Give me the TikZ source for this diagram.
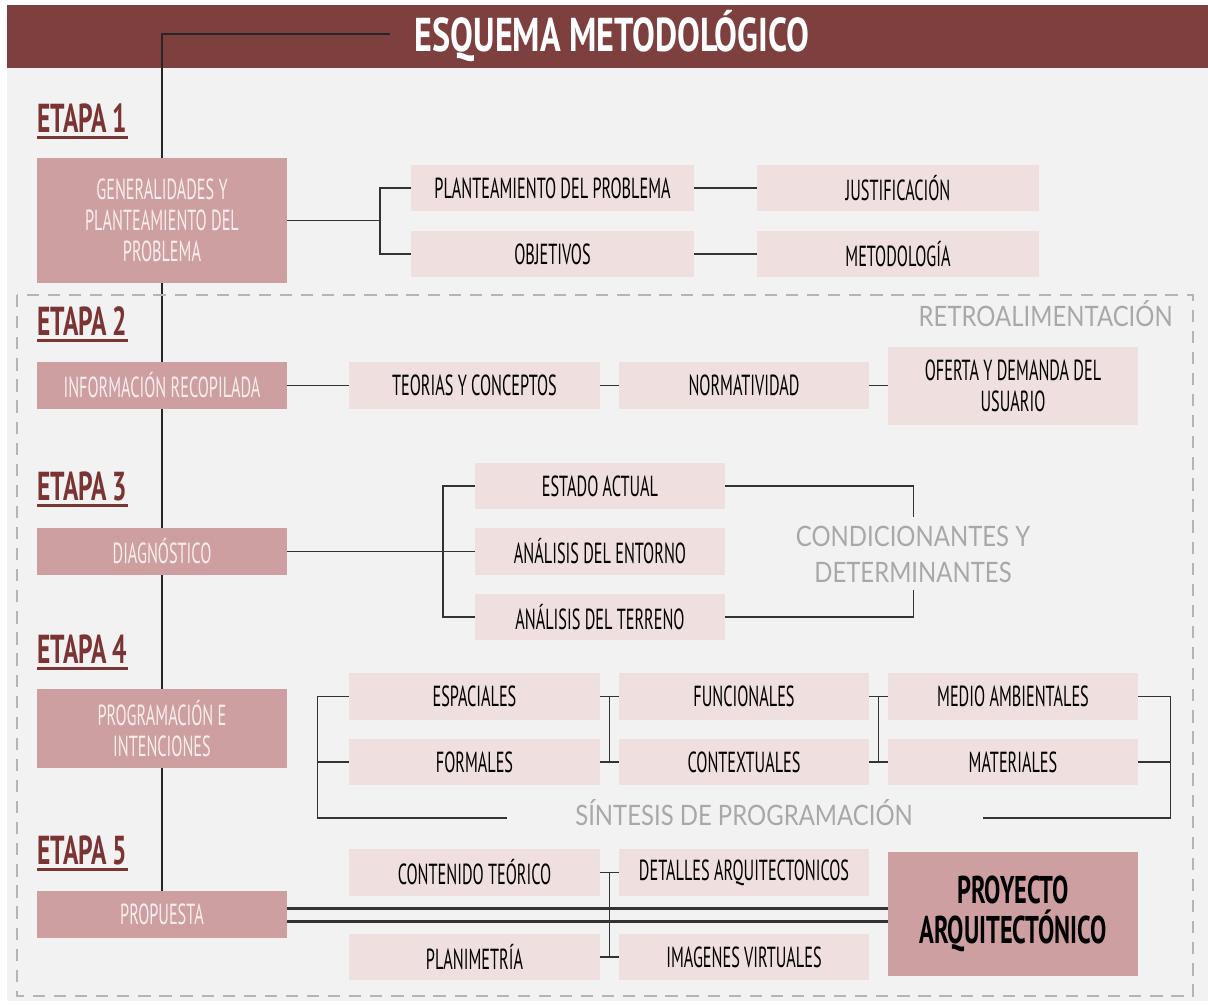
\documentclass[tikz,border=0pt]{standalone}
\usepackage{fontspec}
\usetikzlibrary{calc,backgrounds}
\newfontfamily\cond[FakeStretch=0.56]{PT Sans}
\newfontfamily\condT[FakeStretch=0.72]{PT Sans}
\newfontfamily\condE[FakeStretch=0.63]{PT Sans}
\newfontfamily\lightf[FakeStretch=0.85]{Lato}
\definecolor{titlebrown}{HTML}{7E3F3F}
\definecolor{etapac}{HTML}{7B3434}
\definecolor{darkpink}{HTML}{CE9FA0}
\definecolor{lightpink}{HTML}{EFDFDF}
\definecolor{bgc}{HTML}{F2F2F2}
\definecolor{graytxt}{HTML}{A8A8A8}
\definecolor{paletxt}{HTML}{F8EEEE}
\definecolor{linec}{HTML}{333333}
\tikzset{
  lbox/.style={rectangle, fill=lightpink, inner sep=0pt, align=center, text=black,
    font=\cond\fontsize{16.5}{17.6}\selectfont},
  dbox/.style={rectangle, fill=darkpink, inner sep=0pt, align=center, text=paletxt,
    font=\cond\fontsize{16.5}{17.6}\selectfont},
  etapa/.style={anchor=base west, inner sep=0pt, text=etapac,
    font=\condE\bfseries\fontsize{23}{25}\selectfont},
  graylbl/.style={inner sep=0pt, text=graytxt, align=center,
    font=\lightf\fontsize{16}{20.5}\selectfont},
  conn/.style={draw=linec, line width=0.8pt},
}
\begin{document}
\begin{tikzpicture}[x=0.02cm,y=-0.02cm]
\useasboundingbox (0,0) rectangle (1208,1005);
\begin{pgfonlayer}{background}
\fill[white] (0,0) rectangle (1208,1005);
\fill[bgc] (7,5) rectangle (1208,1001);
\fill[titlebrown] (7,5) rectangle (1208,68);
\end{pgfonlayer}
\node[text=white, font=\condT\bfseries\fontsize{27}{30}\selectfont, inner sep=0pt] (title) at (612,36) {ESQUEMA METODOLÓGICO};
\coordinate (tline) at (390,34);

% dashed feedback frame
\draw[draw=graytxt!85, line width=0.9pt, dash pattern=on 7pt off 5pt] (17,295) rectangle (1193,996);
\node[graylbl, anchor=east] (retro) at (1173,314) {RETROALIMENTACIÓN};

% etapa labels
\foreach \n/\yy in {1/132, 2/335, 3/500, 4/663, 5/864} {
  \node[etapa] (et\n) at (37,\yy) {ETAPA \n};
  \draw[etapac, line width=1.4pt] ([yshift=-3pt]et\n.base west) -- ([yshift=-3pt]et\n.base east);
}

% ETAPA 1
\node[dbox, minimum width=5cm, minimum height=2.5cm] (gen) at (162,220.5) {GENERALIDADES Y\\PLANTEAMIENTO DEL\\PROBLEMA};
\node[lbox, minimum width=5.66cm, minimum height=0.92cm] (plan) at (552.5,188) {PLANTEAMIENTO DEL PROBLEMA};
\node[lbox, minimum width=5.66cm, minimum height=0.92cm] (obj) at (552.5,254) {OBJETIVOS};
\node[lbox, minimum width=5.64cm, minimum height=0.92cm] (just) at (898,188) {JUSTIFICACIÓN};
\node[lbox, minimum width=5.64cm, minimum height=0.92cm] (met) at (898,254) {METODOLOGÍA};
\coordinate (b1) at (380,220.5);
\draw[conn] (gen.east) -- (b1);
\draw[conn] (plan.west) -| (b1) |- (obj.west);
\draw[conn] (plan.east) -- (just.west);
\draw[conn] (obj.east) -- (met.west);

% ETAPA 2
\node[dbox, minimum width=5cm, minimum height=0.94cm] (info) at (162,385.5) {INFORMACIÓN RECOPILADA};
\node[lbox, minimum width=5.02cm, minimum height=0.94cm] (teo) at (474.5,385.5) {TEORIAS Y CONCEPTOS};
\node[lbox, minimum width=5cm, minimum height=0.94cm] (norm) at (744,385.5) {NORMATIVIDAD};
\node[lbox, minimum width=5cm, minimum height=1.56cm] (ofe) at (1013,386) {OFERTA Y DEMANDA DEL\\USUARIO};
\draw[conn] (info.east) -- (teo.west);
\draw[conn] (teo.east) -- (norm.west);
\draw[conn] (norm.east) -- (ofe.west |- norm.east);

% ETAPA 3
\node[dbox, minimum width=5cm, minimum height=0.94cm] (diag) at (162,551.5) {DIAGNÓSTICO};
\node[lbox, minimum width=5cm, minimum height=0.92cm] (est) at (600,486) {ESTADO ACTUAL};
\node[lbox, minimum width=5cm, minimum height=0.94cm] (ent) at (600,551.5) {ANÁLISIS DEL ENTORNO};
\node[lbox, minimum width=5cm, minimum height=0.92cm] (ter) at (600,617) {ANÁLISIS DEL TERRENO};
\coordinate (b3) at (443,551.5);
\draw[conn] (diag.east) -- (ent.west);
\draw[conn] (est.west) -| (b3) |- (ter.west);
\node[graylbl] (cond) at (913,554) {CONDICIONANTES Y\\DETERMINANTES};
\draw[conn] (est.east) -- ++(188,0) -- ++(0,31);
\draw[conn] (ter.east) -- ++(188,0) -- ++(0,-27);

% ETAPA 4
\node[dbox, minimum width=5cm, minimum height=1.58cm] (prog) at (162,728.5) {PROGRAMACIÓN E\\INTENCIONES};
\node[lbox, minimum width=5.02cm, minimum height=0.94cm] (esp) at (474.5,696.5) {ESPACIALES};
\node[lbox, minimum width=5cm, minimum height=0.94cm] (fun) at (744,696.5) {FUNCIONALES};
\node[lbox, minimum width=5cm, minimum height=0.94cm] (med) at (1013,696.5) {MEDIO AMBIENTALES};
\node[lbox, minimum width=5.02cm, minimum height=0.92cm] (form) at (474.5,762) {FORMALES};
\node[lbox, minimum width=5cm, minimum height=0.92cm] (cont) at (744,762) {CONTEXTUALES};
\node[lbox, minimum width=5cm, minimum height=0.92cm] (mat) at (1013,762) {MATERIALES};
\node[graylbl] (sint) at (744,813) {SÍNTESIS DE PROGRAMACIÓN};
\coordinate (sintL) at (507,818);
\coordinate (sintR) at (983,818);
\draw[conn] (esp.west) -- ++(-31,0) |- (sintL);
\draw[conn] (form.west) -- ++(-31,0);
\draw[conn] (med.east) -- ++(32,0) |- (sintR);
\draw[conn] (mat.east) -- ++(32,0);
\draw[conn] (esp.east) -- (fun.west);
\draw[conn] (form.east) -- (cont.west);
\draw[conn] ($(esp.east)!0.5!(fun.west)$) -- ($(form.east)!0.5!(cont.west)$);
\draw[conn] (fun.east) -- (med.west);
\draw[conn] (cont.east) -- (mat.west);
\draw[conn] ($(fun.east)!0.5!(med.west)$) -- ($(cont.east)!0.5!(mat.west)$);

% ETAPA 5
\node[dbox, minimum width=5cm, minimum height=0.94cm] (prop) at (162,914.5) {PROPUESTA};
\node[lbox, minimum width=5.02cm, minimum height=0.94cm] (ct) at (474.5,872.5) {CONTENIDO TEÓRICO};
\node[lbox, minimum width=5cm, minimum height=0.94cm] (det) at (744,872.5) {DETALLES ARQUITECTONICOS};
\node[lbox, minimum width=5.02cm, minimum height=0.92cm] (pla) at (474.5,957) {PLANIMETRÍA};
\node[lbox, minimum width=5cm, minimum height=0.92cm] (img) at (744,957) {IMAGENES VIRTUALES};
\node[dbox, text=black, minimum width=5cm, minimum height=2.48cm,
  font=\condE\bfseries\fontsize{22}{22.5}\selectfont] (proy) at (1013,914) {PROYECTO\\ARQUITECTÓNICO};
\draw[linec, line width=1.7pt] ([yshift=0.13cm]prop.east) -- ([yshift=0.13cm]prop.east -| proy.west);
\draw[linec, line width=1.7pt] ([yshift=-0.13cm]prop.east) -- ([yshift=-0.13cm]prop.east -| proy.west);
\draw[conn] (ct.east) -- (det.west);
\draw[conn] (pla.east) -- (img.west);
\draw[conn] ($(ct.east)!0.5!(det.west)$) -- ($(pla.east)!0.5!(img.west)$);

% main spine behind boxes
\begin{pgfonlayer}{background}
\draw[draw=black!85, line width=0.8pt] (tline) -| (prop.north);
\end{pgfonlayer}
\end{tikzpicture}
\end{document}
